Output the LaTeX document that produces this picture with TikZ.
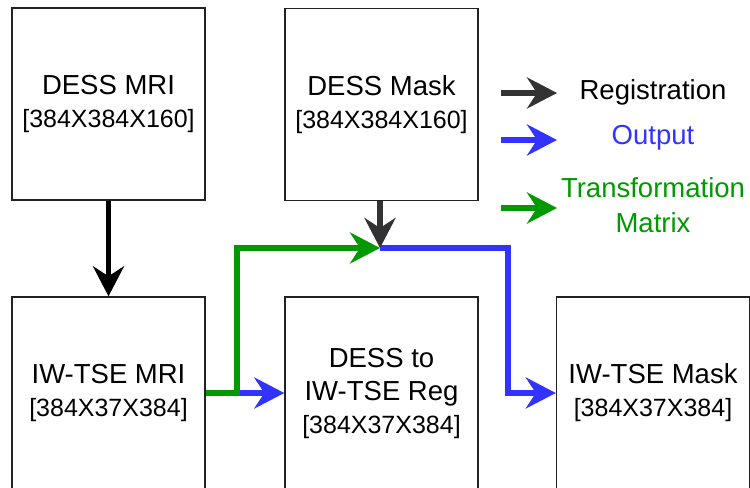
\documentclass[tikz,border=0pt]{standalone}
\usepackage{fontspec}
\setmainfont{Liberation Sans}
\usetikzlibrary{arrows.meta}
\definecolor{boxline}{HTML}{222222}
\definecolor{reggray}{HTML}{333333}
\definecolor{outblue}{HTML}{3333FF}
\definecolor{trgreen}{HTML}{009900}
\newcommand{\dimtext}[1]{{\fontsize{25bp}{30bp}\selectfont #1}}
\tikzset{
  stagebox/.style={draw=boxline, line width=1.4bp, fill=white, minimum width=193bp, minimum height=192bp, inner sep=0pt, align=center, font=\fontsize{27.5bp}{33bp}\selectfont},
  legtext/.style={align=center, inner sep=0pt, font=\fontsize{27.5bp}{35bp}\selectfont},
  tip/.style={-{Stealth[length=30bp, width=31bp, inset=10bp]}},
  linkbase/.style={line width=5.5bp},
}
\begin{document}
\begin{tikzpicture}[x=1bp, y=-1bp]
\clip (0,0) rectangle (750,488);
\fill[white] (0,0) rectangle (750,488);
% boxes
\node[stagebox] (dmri) at (108.5,104) {DESS MRI\\\dimtext{[384X384X160]}};
\node[stagebox] (dmask) at (381.5,104.5) {DESS Mask\\\dimtext{[384X384X160]}};
\node[stagebox] (imri) at (108.5,393) {IW-TSE MRI\\\dimtext{[384X37X384]}};
\node[stagebox] (reg) at (381.5,393) {DESS to\\IW-TSE Reg\\\dimtext{[384X37X384]}};
\node[stagebox] (imask) at (653,393) {IW-TSE Mask\\\dimtext{[384X37X384]}};
% coordinates
\coordinate (j1) at (237,393);
\coordinate (j2) at (380,248);
\coordinate (c1) at (508,248);
\coordinate (c2) at (508,393);
% connectors
\draw[linkbase, black, tip] (dmri.south) -- (imri.north);
\draw[linkbase, outblue, tip] (j1) -- (reg.west);
\draw[linkbase, outblue, tip] (j2) -- (c1) -- (c2) -- (imask.west);
\draw[linkbase, trgreen, tip] (imri.east) -- (j1) |- (j2);
\draw[linkbase, reggray, tip] (dmask.south -| j2) -- (j2);
% legend
\coordinate (la1) at (501,93);  \coordinate (lb1) at (557,93);
\coordinate (la2) at (501,140); \coordinate (lb2) at (557,140);
\coordinate (la3) at (501,208); \coordinate (lb3) at (557,208);
\draw[linkbase, reggray, tip] (la1) -- (lb1);
\draw[linkbase, outblue, tip] (la2) -- (lb2);
\draw[linkbase, trgreen, tip] (la3) -- (lb3);
\node[legtext, text=black] (lreg) at (653,92) {Registration};
\node[legtext, text=outblue] (lout) at (653,138) {Output};
\node[legtext, text=trgreen] (ltr) at (653,205) {Transformation\\Matrix};
\end{tikzpicture}
\end{document}
